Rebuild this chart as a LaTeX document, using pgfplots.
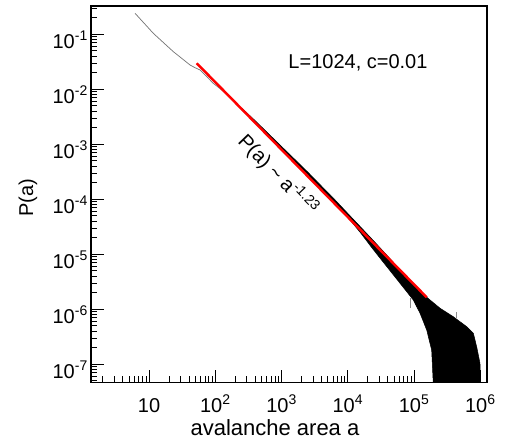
\documentclass[border=0pt]{standalone}
\usepackage{fontspec}
\setmainfont{Liberation Sans}
\usepackage{pgfplots}
\pgfplotsset{compat=1.18}
\newcommand\pw[1]{10\textsuperscript{#1}}
\newcommand\fs{\fontsize{20bp}{24bp}\selectfont}
\newcommand\fl{\fontsize{22bp}{26bp}\selectfont}
\begin{document}
\begin{tikzpicture}[font=\fs]
\useasboundingbox (-91bp,-62.5bp) rectangle (414bp,382.5bp);
\begin{axis}[
  at={(0,0)}, anchor=south west,
  scale only axis, width=396bp, height=376.5bp,
  xmode=log, ymode=log,
  xmin=1.332, xmax=1.262e6, ymin=4.67e-8, ymax=0.3268,
  tick pos=left,
  tick align=inside,
  major tick length=13bp, minor tick length=6.5bp,
  every major tick/.append style={line width=1bp, black},
  every minor tick/.append style={line width=0.8bp, black},
  axis line style={line width=1.2bp},
  xtick={10,100,1000,10000,100000,1000000},
  xticklabels={10,\pw{2},\pw{3},\pw{4},\pw{5},\pw{6}},
  minor xtick={2,3,4,5,6,7,8,9,20,30,40,50,60,70,80,90,200,300,400,500,600,700,800,900,2000,3000,4000,5000,6000,7000,8000,9000,20000,30000,40000,50000,60000,70000,80000,90000,200000,300000,400000,500000,600000,700000,800000,900000},
  ytick={1e-7,1e-6,1e-5,1e-4,1e-3,1e-2,1e-1},
  yticklabels={\pw{-7},\pw{-6},\pw{-5},\pw{-4},\pw{-3},\pw{-2},\pw{-1}},
  minor ytick={5e-8,6e-8,7e-8,8e-8,9e-8,2e-7,3e-7,4e-7,5e-7,6e-7,7e-7,8e-7,9e-7,2e-6,3e-6,4e-6,5e-6,6e-6,7e-6,8e-6,9e-6,2e-5,3e-5,4e-5,5e-5,6e-5,7e-5,8e-5,9e-5,2e-4,3e-4,4e-4,5e-4,6e-4,7e-4,8e-4,9e-4,2e-3,3e-3,4e-3,5e-3,6e-3,7e-3,8e-3,9e-3,2e-2,3e-2,4e-2,5e-2,6e-2,7e-2,8e-2,9e-2,2e-1,3e-1},
  xticklabel style={font=\fs, anchor=base, inner sep=0pt, yshift=-29.5bp},
  yticklabel style={font=\fs, anchor=base east, inner sep=0pt, xshift=-3bp, yshift=-14bp},
  xlabel={avalanche area a},
  ylabel={P(a)},
  xlabel style={font=\fl, at={(axis description cs:0.4646,0)}, anchor=base, yshift=-52.5bp},
  ylabel style={font=\fs, at={(axis description cs:-0.159,0.49)}, anchor=center},
]
% thin line at small a
\addplot[black!55, line width=0.7bp] coordinates {
(6.15,0.2410) (11.61,0.1042) (23.28,0.04831) (41.59,0.02767) (49.43,0.02472)
(58.88,0.02244) (93.33,0.01285) (158.5,0.00776) (251.2,0.004365)
};
% noisy black histogram band (upper then lower envelope)
\addplot[black, fill=black, line width=0.5bp] coordinates {
(251.2,4.550e-3) (398.1,2.704e-3) (631.0,1.574e-3) (1000,9.141e-4) (1585,5.321e-4)
(2512,3.090e-4) (3981,1.754e-4) (6310,9.977e-5) (10000,5.534e-5) (15849,3.076e-5)
(25119,1.706e-5) (39811,9.333e-6) (63096,5.012e-6) (100000,2.692e-6) (155240,1.660e-6)
(246604,1.047e-6) (391742,7.328e-7) (623735,4.831e-7) (785236,3.664e-7) (881049,2.089e-7)
(988553,1.047e-7) (1047129,1e-8)
(207014,1e-8) (184502,1.820e-7) (155240,4.207e-7) (123027,8.511e-7) (97499,1.476e-6)
(54702,3.548e-6) (30690,8.511e-6) (22387,1.380e-5) (15849,2.399e-5) (10000,4.710e-5)
(6310,8.492e-5) (3981,1.528e-4) (2512,2.692e-4) (1585,4.742e-4) (1000,8.337e-4)
(631.0,1.435e-3) (398.1,2.466e-3) (251.2,4.246e-3)
} -- cycle;
% grey spikes
\addplot[black!45, line width=0.7bp] coordinates {(86975,1.6e-6) (86975,1.047e-6)};
\addplot[black!45, line width=0.7bp] coordinates {(429536,6.9e-7) (429536,9.12e-7)};
% power-law fit
\addplot[red, line width=2.5bp] coordinates {(52.5,0.02972) (155240,1.652e-6)};
\node[font=\fs] at (axis cs:14256,0.0301) {L=1024, c=0.01};
\node[font=\fs, rotate=-46] at (axis cs:885,2.77e-4) {P(a) \textasciitilde\ a\textsuperscript{-1.23}};
\end{axis}
\end{tikzpicture}
\end{document}
